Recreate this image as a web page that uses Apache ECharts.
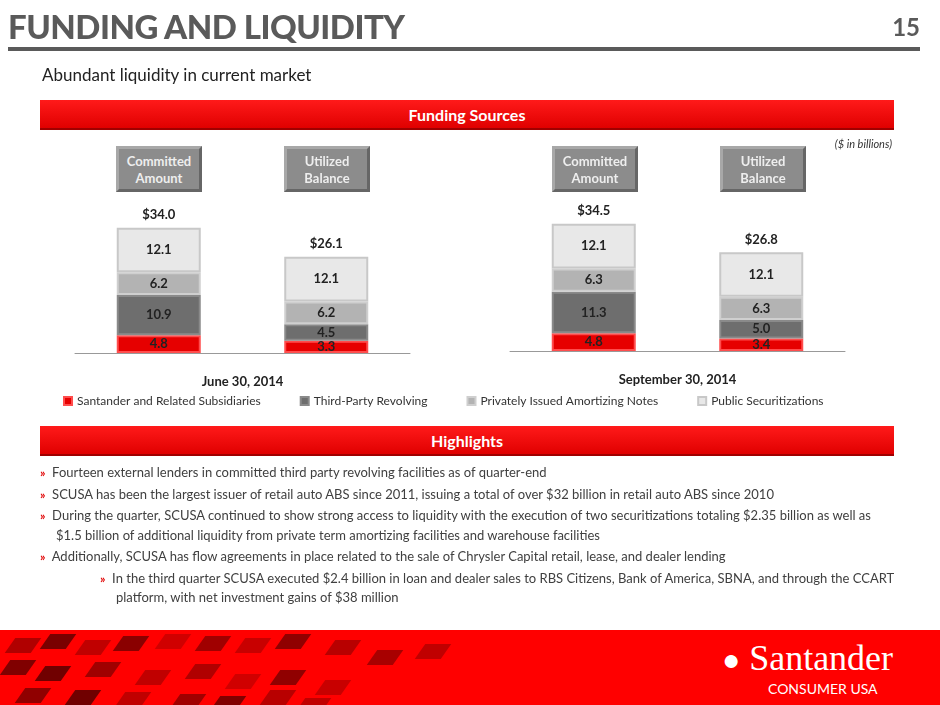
<!DOCTYPE html>
<html lang="en">
<head>
    <meta charset="UTF-8">
    <title>Funding and Liquidity</title>
    <script src="https://cdn.jsdelivr.net/npm/echarts@6/dist/echarts.min.js"></script>
    <style>
        * { box-sizing: border-box; margin: 0; padding: 0; }
        body { width: 940px; height: 705px; position: relative; overflow: hidden; background: #fff;
               font-family: 'Lato', 'Open Sans', sans-serif; color: #404040; }
        #chart { position: absolute; left: 0; top: 0; width: 940px; height: 705px; }
        .abs { position: absolute; }
        .title { left: 8px; top: 6px; font-size: 33px; font-weight: 900; color: #5a5a5a; letter-spacing: -0.5px; }
        .pagenum { right: 20px; top: 12px; font-size: 24px; font-weight: 700; color: #5a5a5a; }
        .rule { left: 8px; top: 47px; width: 912px; height: 4px; background: #5a5a5a; }
        .sub { left: 42px; top: 64px; font-size: 17px; color: #222; }
        .band { left: 40px; width: 854px; height: 30px; background: linear-gradient(#ff1a1a, #e00000);
                border-bottom: 2px solid #a00000; color: #fff; font-weight: 700; font-size: 16px;
                text-align: center; line-height: 29px; }
        .unit { right: 48px; top: 137px; font-size: 11px; font-style: italic; color: #333; }
        .hdr { top: 146px; width: 86px; height: 46px; background: #8c8c8c; border: 3px solid #a8a8a8;
               border-right-color: #666; border-bottom-color: #666; color: #eee; font-weight: 700;
               font-size: 13px; text-align: center; line-height: 17px; padding-top: 4px; }
        .bul { font-size: 13px; color: #404040; line-height: 19.5px; }
        .mk { color: #e00000; font-weight: 700; font-size: 12px; }
        .footer { left: 0; top: 630px; width: 940px; height: 75px; background: #ff0000; overflow: hidden; }
        .tile { position: absolute; width: 26px; height: 15px; transform: skewX(-35deg); }
    </style>
</head>
<body>
    <div id="chart"></div>
    <div class="abs title">FUNDING AND LIQUIDITY</div>
    <div class="abs pagenum">15</div>
    <div class="abs rule"></div>
    <div class="abs sub">Abundant liquidity in current market</div>
    <div class="abs band" style="top:100px">Funding Sources</div>
    <div class="abs unit">($ in billions)</div>
    <div class="abs hdr" style="left:116px">Committed<br>Amount</div>
    <div class="abs hdr" style="left:284px">Utilized<br>Balance</div>
    <div class="abs hdr" style="left:552px">Committed<br>Amount</div>
    <div class="abs hdr" style="left:720px">Utilized<br>Balance</div>
    <div class="abs band" style="top:426px">Highlights</div>

    <div class="abs bul" style="left:40px;top:463px;width:860px">
        <div><span class="mk">»</span>&nbsp; Fourteen external lenders in committed third party revolving facilities as of quarter-end</div>
        <div style="margin-top:2px"><span class="mk">»</span>&nbsp; SCUSA has been the largest issuer of retail auto ABS since 2011, issuing a total of over $32 billion in retail auto ABS since 2010</div>
        <div style="margin-top:2px;padding-left:16px;text-indent:-16px"><span class="mk">»</span>&nbsp; During the quarter, SCUSA continued to show strong access to liquidity with the execution of two securitizations totaling $2.35 billion as well as<br>$1.5 billion of additional liquidity from private term amortizing facilities and warehouse facilities</div>
        <div style="margin-top:2px"><span class="mk">»</span>&nbsp; Additionally, SCUSA has flow agreements in place related to the sale of Chrysler Capital retail, lease, and dealer lending</div>
        <div style="margin-top:2px;padding-left:76px;text-indent:-16px"><span class="mk">»</span>&nbsp; In the third quarter SCUSA executed $2.4 billion in loan and dealer sales to RBS Citizens, Bank of America, SBNA, and through the CCART platform, with net investment gains of $38 million</div>
    </div>

    <div class="abs footer" id="footer">
        <div class="abs" style="left:722px;top:8px;color:#fff;font-family:'Liberation Serif',serif;font-size:36px;line-height:40px">
            <span style="font-size:30px">&#9679;</span> Santander</div>
        <div class="abs" style="left:768px;top:50px;color:#fff;font-size:14px">CONSUMER USA</div>
    </div>

    <script>
        // values in $ billions
        const categories = ['Committed Amount', 'Utilized Balance'];
        const seriesNames = ['Santander and Related Subsidiaries', 'Third-Party Revolving',
                             'Privately Issued Amortizing Notes', 'Public Securitizations'];
        const periods = ['June 30, 2014', 'September 30, 2014'];
        const santander = [[4.8, 3.3], [4.8, 3.4]];
        const thirdParty = [[10.9, 4.5], [11.3, 5.0]];
        const privateNotes = [[6.2, 6.2], [6.3, 6.3]];
        const publicSec = [[12.1, 12.1], [12.1, 12.1]];
        const totals = [[34.0, 26.1], [34.5, 26.8]];

        const colors = ['#e60000', '#6e6e6e', '#b3b3b3', '#e8e8e8'];
        const borders = ['#ff4d4d', '#8a8a8a', '#cfcfcf', '#c8c8c8'];
        const values = [santander, thirdParty, privateNotes, publicSec];

        // decorative tiles in footer
        const tiles = [[10,8,'#b00000'],[45,4,'#7a0000'],[80,10,'#c00000'],[118,6,'#8a0000'],[160,4,'#d00000'],
            [200,6,'#a00000'],[240,8,'#c80000'],[280,4,'#900000'],[330,10,'#b80000'],[372,20,'#a80000'],
            [420,14,'#c00000'],[5,30,'#800000'],[40,36,'#700000'],[90,32,'#a00000'],[140,40,'#c00000'],
            [190,34,'#b00000'],[230,44,'#d00000'],[275,40,'#900000'],[320,50,'#c80000'],[20,58,'#900000'],
            [70,60,'#700000'],[120,62,'#c00000'],[175,64,'#a00000'],[215,66,'#800000'],[265,60,'#b80000'],[300,68,'#c00000']];
        const footer = document.getElementById('footer');
        tiles.forEach(t => {
            const d = document.createElement('div');
            d.className = 'tile';
            d.style.left = t[0] + 'px'; d.style.top = t[1] + 'px'; d.style.background = t[2];
            footer.insertBefore(d, footer.firstChild);
        });

        const chart = echarts.init(document.getElementById('chart'));
        const grids = [{ left: 75, width: 335, top: 200, height: 153 },
                       { left: 510, width: 335, top: 198, height: 153 }];
        const series = [];
        periods.forEach((p, g) => {
            values.forEach((v, i) => {
                series.push({
                    name: seriesNames[i], type: 'bar', stack: 's' + g, xAxisIndex: g, yAxisIndex: g,
                    barWidth: 84, data: v[g],
                    itemStyle: { color: colors[i], borderColor: borders[i], borderWidth: 2 },
                    label: { show: true, position: 'inside', color: '#222', fontWeight: 'bold',
                             fontSize: 13, fontFamily: 'Lato', formatter: d => d.value.toFixed(1) }
                });
            });
            series.push({
                name: 'total', type: 'bar', stack: 's' + g, xAxisIndex: g, yAxisIndex: g,
                barWidth: 84, data: [0, 0], itemStyle: { color: 'transparent' },
                label: { show: true, position: 'top', distance: 6, color: '#222', fontWeight: 'bold',
                         fontSize: 13, fontFamily: 'Lato',
                         formatter: d => '$' + totals[g][d.dataIndex].toFixed(1) }
            });
        });

        chart.setOption({
            animation: false,
            textStyle: { fontFamily: 'Lato' },
            legend: {
                data: seriesNames, top: 390, left: 58, itemGap: 39, itemWidth: 8, itemHeight: 8,
                icon: 'rect', textStyle: { fontSize: 12, color: '#333' }
            },
            grid: grids,
            xAxis: periods.map((p, g) => ({
                type: 'category', gridIndex: g, data: categories,
                name: p, nameLocation: 'middle', nameGap: 22,
                nameTextStyle: { fontWeight: 'bold', fontSize: 13, color: '#222' },
                axisLabel: { show: false }, axisTick: { show: false },
                axisLine: { lineStyle: { color: '#999' } }
            })),
            yAxis: periods.map((p, g) => ({
                type: 'value', gridIndex: g, min: 0, max: 41.5, show: false, splitLine: { show: false }
            })),
            series: series
        });
    </script>
</body>
</html>
